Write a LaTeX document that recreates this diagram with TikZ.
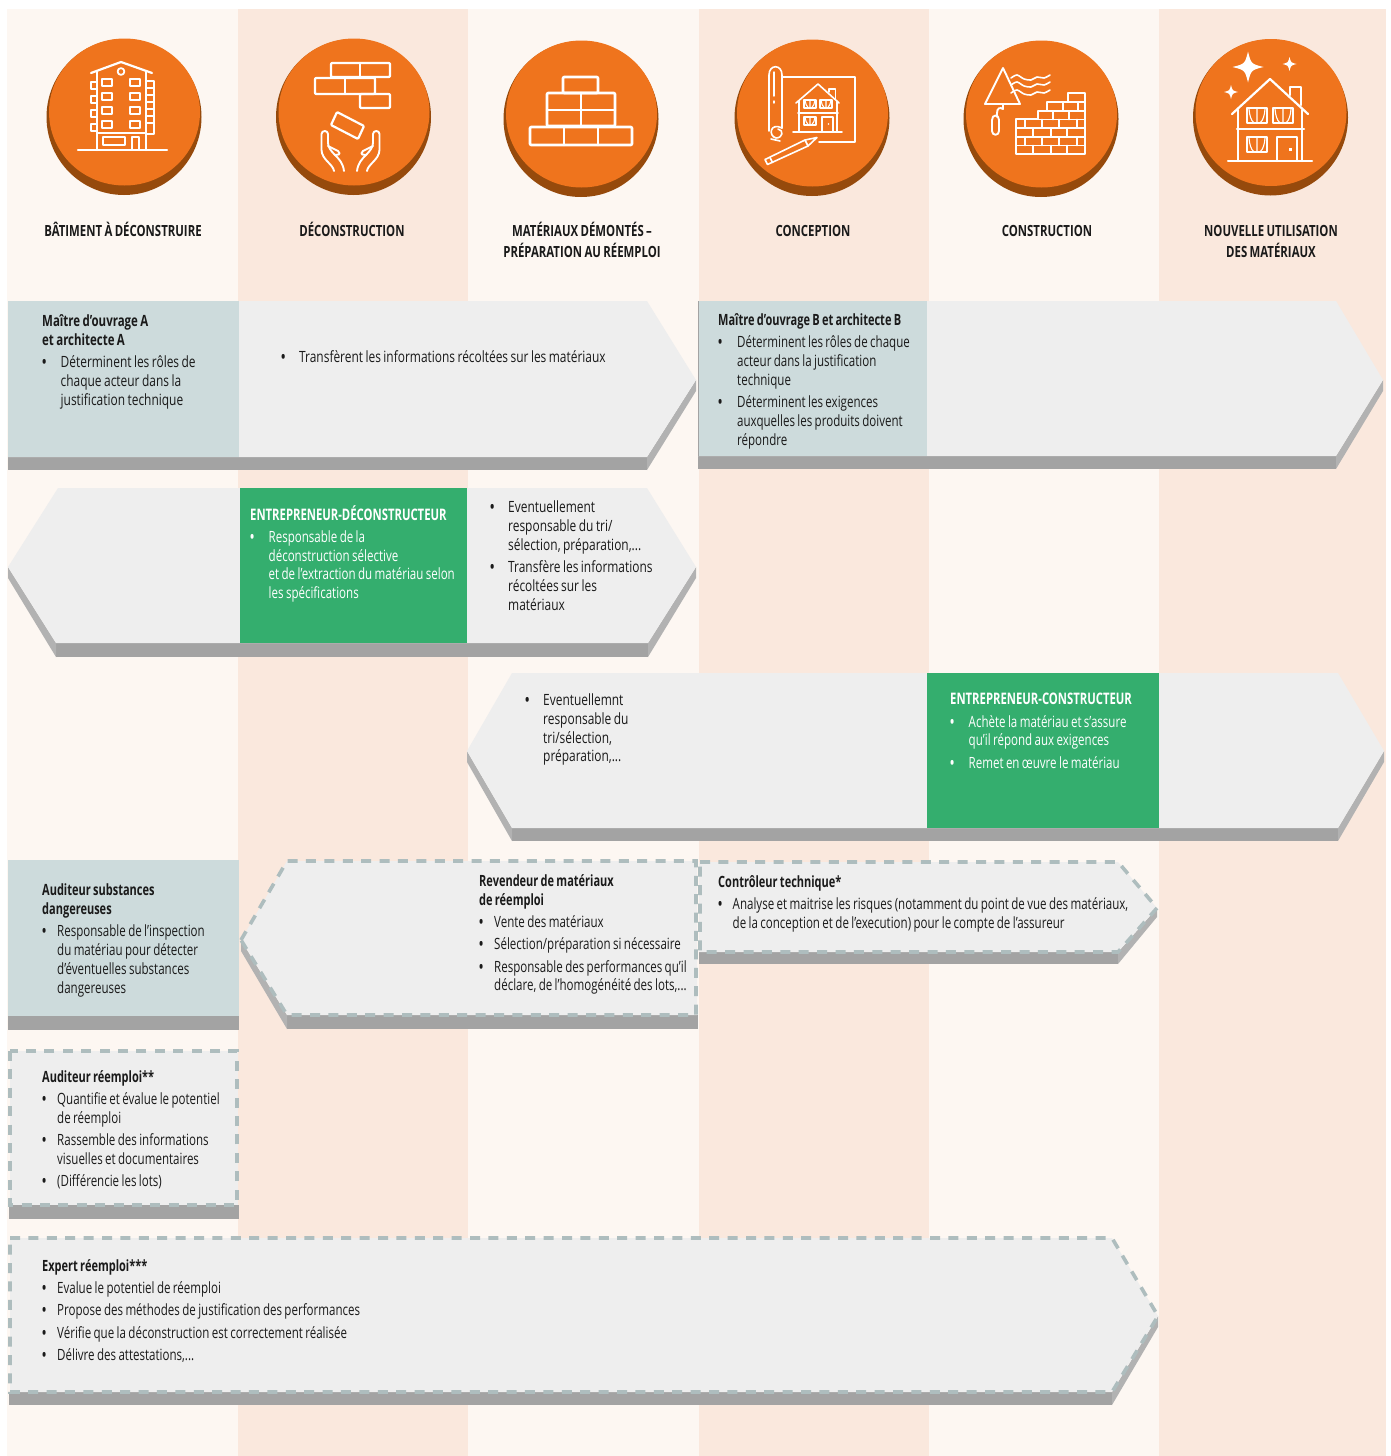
\documentclass[tikz,border=0pt]{standalone}
\usepackage{fontspec}
\setmainfont[FakeStretch=0.77,WordSpace=0.8,BoldFeatures={FakeStretch=0.74}]{Open Sans}
\newfontfamily\narrowf[FakeStretch=0.745,WordSpace=0.8,BoldFeatures={FakeStretch=0.71}]{Open Sans}
\definecolor{colA}{HTML}{FDF7F2}
\definecolor{colB}{HTML}{FAE8DD}
\definecolor{orangeF}{HTML}{EF741D}
\definecolor{orangeD}{HTML}{964A0C}
\definecolor{faceC}{HTML}{EEEEEE}
\definecolor{shadeC}{HTML}{A3A3A3}
\definecolor{shadeL}{HTML}{B2B2B2}
\definecolor{tealC}{HTML}{CDDBDC}
\definecolor{greenC}{HTML}{34AE6E}
\definecolor{dashC}{HTML}{AEBDBE}
\definecolor{inkC}{HTML}{1A1A1A}
\newlength{\hng}
\newcommand{\hd}[1]{\noindent\strut\textbf{#1}\par}
\newcommand{\itm}[1]{\par\vskip3.5pt{\let\\\newline\hangindent=\hng\hangafter=1\noindent\makebox[\hng][l]{\strut\textbf{•}}#1\par}}
\tikzset{
  face/.style={fill=faceC},
  shade/.style={fill=shadeC},
  shadeside/.style={fill=shadeL},
  dashedge/.style={draw=dashC,line width=3.6pt,dash pattern=on 10pt off 8.4pt},
  hdr/.style={anchor=north,font=\fontsize{15.4}{21}\selectfont\bfseries,text=inkC,align=center,inner sep=0pt},
  body/.style={anchor=north west,inner sep=0pt,text width=#1,align=flush left,text=inkC,font=\fontsize{15.5}{18.8}\selectfont},
  bodyn/.style={body=#1,font=\narrowf\fontsize{15.5}{18.8}\selectfont},
  bodyw/.style={bodyn=#1,text=white},
  ico/.style={draw=white,line width=2.2pt,line join=round,line cap=round},
  icot/.style={draw=white,line width=1.6pt,line join=round,line cap=round},
}
\newcommand{\disc}[3]{%
  \fill[orangeD] (#1,#2+#3) circle[x radius=77.5,y radius=78];
  \fill[orangeF] (#1+0.5,#2+#3-5) circle[x radius=75.5,y radius=73.5];}
\newcommand{\spk}[3]{\fill[white,shift={(#1,#2)}] (0,-#3) .. controls (0.2*#3,-0.2*#3) .. (#3,0) .. controls (0.2*#3,0.2*#3) .. (0,#3) .. controls (-0.2*#3,0.2*#3) .. (-#3,0) .. controls (-0.2*#3,-0.2*#3) .. cycle;}
\newcommand{\curt}[4]{\draw[line width=1.1pt,white] (#1+#3*0.1,#2) .. controls (#1+#3*0.12,#2+#4*0.5-#2*0.5) and (#1+#3*0.22,#4-1) .. (#1+#3*0.32,#4) (#1+#3*0.5,#2) -- (#1+#3*0.5,#4) (#1+#3*0.9,#2) .. controls (#1+#3*0.88,#2+#4*0.5-#2*0.5) and (#1+#3*0.78,#4-1) .. (#1+#3*0.68,#4);}
\begin{document}
\begin{tikzpicture}[x=1pt,y=-1pt]
\useasboundingbox (0,0) rectangle (1391,1456);
\fill[white] (0,0) rectangle (1391,1456);
% columns
\fill[colA] (7,9) rectangle (238,1456);
\fill[colB] (238,9) rectangle (468,1456);
\fill[colA] (468,9) rectangle (699,1456);
\fill[colB] (699,9) rectangle (929,1456);
\fill[colA] (929,9) rectangle (1159,1456);
\fill[colB] (1159,9) rectangle (1386,1456);
% discs
\disc{124}{39}{78}
\disc{353.5}{39}{78}
\disc{581}{41}{78}
\disc{812}{40}{78}
\disc{1041}{41}{78}
\disc{1270.5}{39.5}{78}
% icon 1: building
\draw[ico] (78,150) -- (167,150);
\draw[ico] (91,73) -- (121,62) -- (152,73);
\draw[ico,line width=1.8pt] (121,71.5) circle[radius=3.4];
\draw[ico] (97,72) -- (97,150) (146,72) -- (146,150);
\foreach \yy in {79,93,107,121}{
  \draw[icot,line width=1.9pt] (102,\yy) rectangle (112,\yy+7);
  \draw[icot,line width=1.9pt] (130,\yy) rectangle (140,\yy+7);
  \draw[icot,line width=1.9pt] (97,\yy+3) -- (91,\yy+3) -- (91,\yy+10) -- (97,\yy+10);
}
\draw[ico,line width=1.9pt] (146,81) -- (154,81) -- (154,134) -- (146,134);
\foreach \yy in {88,95,102,109,116,123}{\draw[icot,line width=1.6pt] (146,\yy) -- (154,\yy);}
\draw[ico,line width=1.9pt] (97,133) -- (146,133);
\draw[icot,line width=1.9pt] (103,137) rectangle (125,145);
\draw[ico,line width=1.9pt] (132,150) -- (132,137) -- (139,137) -- (139,150);
% icon 2: bricks and hands
\begin{scope}[ico,rounded corners=1pt]
\draw (331,63) rectangle (390,77);
\draw (360,63) -- (360,77);
\draw (315,78) rectangle (375,94);
\draw (345,78) -- (345,94);
\draw (360,94) rectangle (390,108);
\draw (337,112) -- (364,126) -- (358,139) -- (331,125) -- cycle;
\end{scope}
\foreach \mm/\oo in {1/0,-1/701}{
 \begin{scope}[xshift=\oo pt,xscale=\mm]
 \draw[icot,line width=1.9pt] (344,171) .. controls (343,163) and (339,159) .. (335,155) .. controls (331,151) and (328,147) .. (328,143) -- (328,134) .. controls (328,130) and (321.5,130) .. (321.5,134) -- (321.5,150) .. controls (322,160) and (333,164) .. (334,171);
 \draw[icot,line width=1.9pt] (328,146) -- (338,151) .. controls (342,155) and (337,155) .. (335,155);
 \end{scope}
}
% icon 3: brick pile
\begin{scope}[ico,line width=2.6pt,rounded corners=1pt]
\draw (563,77) rectangle (598,93);
\draw (547,93) rectangle (615,126);
\draw (547,110) -- (615,110);
\draw (581,93) -- (581,126);
\draw (530,127) rectangle (632,145);
\draw (564,127) -- (564,145) (598,127) -- (598,145);
\end{scope}
% icon 4: plan
\begin{scope}[icot]
\draw (769,131) -- (769,75) .. controls (769,64) and (782,64) .. (782,75) -- (782,128);
\draw (782,128) .. controls (770,122) and (768,136) .. (776,138) .. controls (783,138) and (784,130) .. (778,129);
\draw (771,139) -- (780,141);
\draw[line width=1.5pt] (774,72) -- (774,96);
\draw[line width=1.5pt] (774,101) -- (774,103);
\draw (782,77) -- (855,77) -- (855,142) -- (819,142);
\draw (796,103) -- (818,84) -- (839,103);
\draw (829,92) -- (829,89) -- (835.5,89) -- (835.5,99);
\draw (799,101) -- (799,132) (837,101) -- (837,132);
\draw (798,113) -- (838,113);
\draw (793,132) -- (842,132);
\draw (804,100) rectangle (816,108);
\draw (820,100) rectangle (832,108);
\draw (804,117) rectangle (816,125);
\draw (822,132) -- (822,117) -- (833,117) -- (833,132);
\draw (817,137.5) -- (805,140) -- (765,159.5) -- (767.5,164.5) -- (808,146) -- cycle;
\draw (805,140) -- (808,146);
\draw (770,157.5) -- (772.5,162.5);
\end{scope}
\curt{804}{101}{12}{107}\curt{820}{101}{12}{107}\curt{804}{118}{12}{124}
\fill[white] (828.5,124) circle[radius=0.9];
% icon 5: trowel & wall
\begin{scope}[ico,line width=1.9pt]
\draw (1003,68) -- (985,104) -- (1020,104) -- cycle;
\draw (1003,104) -- (1003,109) .. controls (1000,107) and (997,108) .. (997,113) -- (997,117);
\draw (992,120) .. controls (992,114) and (999,114) .. (999,120) -- (999,131) .. controls (999,136) and (992,136) .. (992,131) -- cycle;
\foreach \yy in {78,85,93}{
 \draw[line width=1.6pt] plot[smooth] coordinates {(1011,\yy) (1017,\yy-3) (1024,\yy+1) (1031,\yy+2) (1037,\yy-1) (1044,\yy) (1050,\yy-3)};
}
\draw (1016,119) -- (1016,154) -- (1085,154) -- (1085,93) -- (1068,93) -- (1068,102) -- (1047,102) -- (1047,111) -- (1038,111) -- (1038,119) -- cycle;
\draw (1068,102) -- (1085,102) (1047,111) -- (1085,111) (1038,119.5) -- (1085,119.5) (1016,128) -- (1085,128) (1016,137) -- (1085,137) (1016,145.5) -- (1085,145.5);
\foreach \xx in {1063,1078}{\draw (\xx,102) -- (\xx,111);}
\foreach \xx in {1053,1069}{\draw (\xx,111) -- (\xx,119.5);}
\foreach \xx in {1025,1042,1059,1077}{\draw (\xx,119.5) -- (\xx,128); \draw (\xx,137) -- (\xx,145.5);}
\foreach \xx in {1033,1051,1067}{\draw (\xx,128) -- (\xx,137); \draw (\xx,145.5) -- (\xx,154);}
\end{scope}
% icon 6: house
\spk{1248}{67}{15.5}
\spk{1289.5}{64}{7}
\spk{1231}{92}{7}
\begin{scope}[ico]
\draw (1228,161) -- (1312,161);
\draw (1232,114) -- (1270,79) -- (1308,114);
\draw (1290,95) -- (1290,87) -- (1301,87) -- (1301,105);
\draw (1238,110) -- (1238,161) (1302,110) -- (1302,161);
\draw (1237,129) -- (1304,129);
\draw (1247,108) rectangle (1267,123);
\draw (1273,108) rectangle (1293,123);
\draw (1247,137) rectangle (1267,152);
\draw (1277,161) -- (1277,137) -- (1297,137) -- (1297,161);
\end{scope}
\curt{1247}{109}{20}{122}\curt{1273}{109}{20}{122}\curt{1247}{138}{20}{151}
\fill[white] (1288.5,148) rectangle (1291.5,151);
% headers
\node[hdr] (h1) at (123,222) {\strut BÂTIMENT À DÉCONSTRUIRE};
\node[hdr] (h2) at (352,222) {\strut DÉCONSTRUCTION};
\node[hdr] (h3) at (582,222) {\strut MATÉRIAUX DÉMONTÉS –\\\strut PRÉPARATION AU RÉEMPLOI};
\node[hdr] (h4) at (813,222) {\strut CONCEPTION};
\node[hdr] (h5) at (1047,222) {\strut CONSTRUCTION};
\node[hdr] (h6) at (1271,222) {\strut NOUVELLE UTILISATION\\\strut DES MATÉRIAUX};
% row 1 left
\fill[shade] (8,457) -- (647,457) -- (647,470) -- (8,470) -- cycle;
\fill[shadeside] (647,457) -- (696,380) -- (696,391) -- (647,470) -- cycle;
\fill[face] (8,301) -- (647,301) -- (696,380) -- (647,457) -- (8,457) -- cycle;
\fill[tealC] (8,301) rectangle (239,457);
% row 1 right
\fill[shade] (698,456) -- (1336,456) -- (1336,469) -- (698,469) -- cycle;
\fill[shadeside] (1336,456) -- (1383,380) -- (1383,391) -- (1336,469) -- cycle;
\fill[face] (698,301) -- (1336,301) -- (1383,380) -- (1336,456) -- (698,456) -- cycle;
\fill[tealC] (698,301) rectangle (927,456);
\fill[shadeC] (697.5,301) rectangle (699,456);
% row 2
\fill[shade] (56,643) -- (648,643) -- (648,657) -- (56,657) -- cycle;
\fill[shadeside] (648,643) -- (696,567) -- (696,578) -- (648,657) -- cycle;
\fill[shadeside] (56,643) -- (8,567) -- (8,578) -- (56,657) -- cycle;
\fill[face] (8,567) -- (58,488) -- (647,488) -- (696,567) -- (648,643) -- (56,643) -- cycle;
\fill[greenC] (240,488) rectangle (467,643);
% row 3
\fill[shade] (512,828) -- (1338,828) -- (1338,841) -- (512,841) -- cycle;
\fill[shadeside] (1338,828) -- (1384,751) -- (1384,762) -- (1338,841) -- cycle;
\fill[shadeside] (512,828) -- (467,751) -- (467,762) -- (512,841) -- cycle;
\fill[face] (467,751) -- (512,673) -- (1338,673) -- (1384,751) -- (1338,828) -- (512,828) -- cycle;
\fill[greenC] (927,673) rectangle (1159,828);
% row 4
\fill[shade] (8,1016) rectangle (239,1030);
\fill[tealC] (8,860) rectangle (239,1016);
\fill[shade] (287,1015) rectangle (698,1029);
\fill[shadeside] (287,1015) -- (241,940) -- (241,951) -- (287,1029) -- cycle;
\fill[face] (241,940) -- (287,861) -- (697,861) -- (697,1015) -- (287,1015) -- cycle;
\draw[dashedge] (241,940) -- (287,861) -- (696,861) -- (696,1015) -- (287,1015) -- cycle;
\fill[shade] (699,952) rectangle (1118,964);
\fill[shadeside] (1118,952) -- (1157,908) -- (1157,917) -- (1118,964) -- cycle;
\fill[face] (699,862) -- (1118,862) -- (1157,908) -- (1118,952) -- (699,952) -- cycle;
\draw[dashedge] (700,862) -- (1118,862) -- (1157,908) -- (1118,952) -- (700,952) -- cycle;
% row 5
\fill[shade] (9,1205) rectangle (239,1219);
\fill[face] (10,1051) rectangle (238,1205);
\draw[dashedge] (10,1051) rectangle (237,1205);
% row 6
\fill[shade] (9,1392) -- (1112,1392) -- (1112,1405) -- (9,1405) -- cycle;
\fill[shadeside] (1112,1392) -- (1158,1316) -- (1158,1327) -- (1112,1405) -- cycle;
\fill[face] (10,1238) -- (1112,1238) -- (1158,1316) -- (1112,1392) -- (10,1392) -- cycle;
\draw[dashedge] (10,1238) -- (1112,1238) -- (1158,1316) -- (1112,1392) -- (10,1392) -- cycle;
% texts
\node[body=190pt] (t1) at (42,313) {\setlength{\hng}{18.5pt}\hd{Maître d’ouvrage A\\et architecte A}\itm{Déterminent les rôles de\\chaque acteur dans la\\justification technique}};
\node[body=340pt] (t2) at (281,340) {\setlength{\hng}{18pt}\itm{Transfèrent les informations récoltées sur les matériaux}};
\node[bodyn=205pt] (t3) at (718,312) {\setlength{\hng}{19pt}\hd{Maître d’ouvrage B et architecte B}\itm{Déterminent les rôles de chaque\\acteur dans la justification\\technique}\itm{Déterminent les exigences\\auxquelles les produits doivent\\répondre}};
\node[bodyw=215pt] (t4) at (250,505) {\setlength{\hng}{18.5pt}\hd{\fontsize{15.9}{19}\selectfont ENTREPRENEUR-DÉCONSTRUCTEUR}\itm{Responsable de la\\déconstruction sélective\\et de l’extraction du matériau selon\\les spécifications}};
\node[body=180pt] (t5) at (490,490) {\setlength{\hng}{18pt}\itm{Eventuellement\\responsable du tri/\\sélection, préparation,...}\itm{Transfère les informations\\récoltées sur les\\matériaux}};
\node[body=130pt] (t6) at (525,683) {\setlength{\hng}{18pt}\itm{Eventuellemnt\\responsable du\\tri/sélection,\\préparation,...}};
\node[bodyw=205pt] (t7) at (950,691.5) {\setlength{\hng}{18.5pt}\hd{\fontsize{15.9}{19}\selectfont ENTREPRENEUR-CONSTRUCTEUR}\itm{Achète la matériau et s’assure\\qu’il répond aux exigences}\itm{Remet en œuvre le matériau}};
\node[bodyn=190pt] (t8) at (42,882.5) {\setlength{\hng}{15pt}\hd{Auditeur substances\\dangereuses}\itm{Responsable de l’inspection\\du matériau pour détecter\\d’éventuelles substances\\dangereuses}};
\node[bodyn=215pt] (t9) at (479,873) {\setlength{\hng}{15pt}\hd{Revendeur de matériaux\\de réemploi}\itm{Vente des matériaux}\itm{Sélection/préparation si nécessaire}\itm{Responsable des performances qu’il\\déclare, de l’homogénéité des lots,...}};
\node[bodyn=420pt] (t10) at (718,874) {\setlength{\hng}{14.5pt}\hd{Contrôleur technique*}\itm{Analyse et maitrise les risques (notamment du point de vue des matériaux,\\de la conception et de l’execution) pour le compte de l’assureur}};
\node[bodyn=190pt] (t11) at (42,1069) {\setlength{\hng}{15pt}\hd{Auditeur réemploi**}\itm{Quantifie et évalue le potentiel\\de réemploi}\itm{Rassemble des informations\\visuelles et documentaires}\itm{(Différencie les lots)}};
\node[bodyn=400pt] (t12) at (42,1258) {\setlength{\hng}{15pt}\hd{Expert réemploi***}\itm{Evalue le potentiel de réemploi}\itm{Propose des méthodes de justification des performances}\itm{Vérifie que la déconstruction est correctement réalisée}\itm{Délivre des attestations,...}};
\end{tikzpicture}
\end{document}
